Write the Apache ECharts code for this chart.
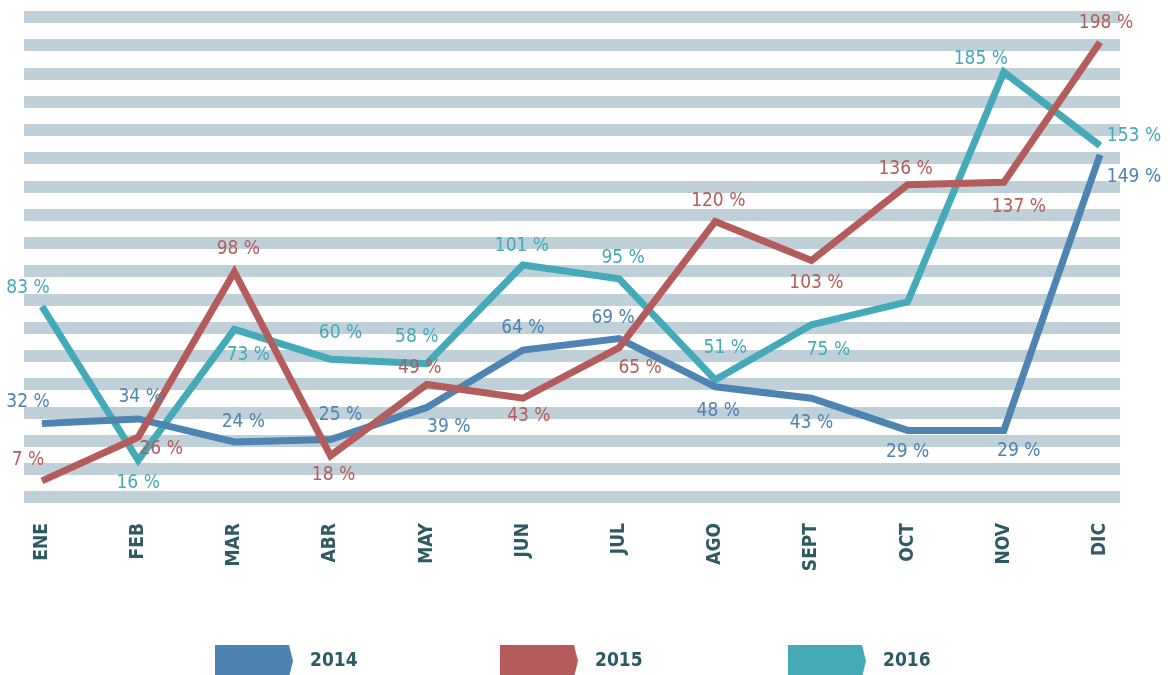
<!DOCTYPE html>
<html>
<head>
<meta charset="utf-8">
<script src="https://cdn.jsdelivr.net/npm/echarts@6/dist/echarts.min.js"></script>
<style>html,body{margin:0;padding:0;background:#fff;}#c{width:1170px;height:675px;}</style>
</head>
<body>
<div id="c"></div>
<script>
// ---- data ----
const months = ['ENE','FEB','MAR','ABR','MAY','JUN','JUL','AGO','SEPT','OCT','NOV','DIC'];
const seriesNames = ['2014','2015','2016'];
const v2014 = [32, 34, 24, 25, 39, 64, 69, 48, 43, 29, 29, 149];
const v2015 = [7, 26, 98, 18, 49, 43, 65, 120, 103, 136, 137, 198];
const v2016 = [83, 16, 73, 60, 58, 101, 95, 51, 75, 85, 185, 153];
const hiddenLabels2016 = [9]; // OCT 2016 has no label in the original

// ---- layout (label offsets relative to point, px) ----
const off2014 = [[-14,-21],[2,-22],[9,-20],[10,-25],[22,20],[0,-22],[-6,-20],[3,24],[0,25],[0,22],[15,21],[34,22]];
const off2015 = [[-14,-21],[23,12],[4,-23],[3,19],[-7,-16],[6,18],[21,20],[3,-20],[5,23],[-2,-16],[15,25],[6,-19]];
const off2016 = [[-14,-18],[0,23],[14,26],[10,-26],[-10,-27],[-1,-19],[4,-21],[10,-32],[17,25],[0,0],[-23,-13],[34,-10]];

const colors = {'2014':'#4f83b1','2015':'#b45c5b','2016':'#44aab8'};
const FONT = "'Liberation Sans Narrow','DejaVu Sans Condensed','Roboto Condensed',sans-serif";
const dark = '#2e5b63';

function mk(name, vals, offs, hidden) {
  hidden = hidden || [];
  return {
    name: name, type: 'line', xAxisIndex: 1, yAxisIndex: 1,
    symbol: 'circle', symbolSize: 1, showSymbol: true,
    lineStyle: {width: 7, color: colors[name], join: 'miter'},
    itemStyle: {color: colors[name]},
    emphasis: {disabled: true},
    label: {show: true, position: 'inside', align: 'center', verticalAlign: 'middle',
      color: colors[name], fontFamily: FONT, fontSize: 19, fontWeight: 500,
      formatter: p => p.value + ' %'},
    data: vals.map((v, i) => ({value: v, label: {offset: offs[i], show: hidden.indexOf(i) < 0}}))
  };
}

function legend(name, left) {
  return {
    data: [name], left: left, top: 645, padding: 0, itemWidth: 78, itemHeight: 32,
    icon: 'path://M0,0 L74,0 L78,16 L74,32 L0,32 Z',
    selectedMode: false,
    textStyle: {fontFamily: FONT, fontSize: 19, fontWeight: 'bold', color: dark, padding: [0,0,0,12]}
  };
}

const chart = echarts.init(document.getElementById('c'), null, {renderer: 'canvas'});
chart.setOption({
  animation: false,
  backgroundColor: '#fff',
  grid: [
    {left: 24, right: 50, top: 17, bottom: 178},
    {left: 42, right: 70, top: 17, bottom: 178}
  ],
  xAxis: [
    {type: 'value', gridIndex: 0, show: false, min: 0, max: 1},
    {type: 'category', gridIndex: 1, data: months, boundaryGap: false,
     axisLine: {show: false}, axisTick: {show: false}, splitLine: {show: false},
     axisLabel: {rotate: 90, margin: 26, fontFamily: FONT, fontSize: 19, fontWeight: 'bold', color: dark, interval: 0}}
  ],
  yAxis: [
    {type: 'value', gridIndex: 0, min: 0, max: 17, interval: 1,
     axisLine: {show: false}, axisTick: {show: false}, axisLabel: {show: false},
     splitLine: {show: true, lineStyle: {color: '#bfd0d9', width: 12}}},
    {type: 'value', gridIndex: 1, min: 0, max: 209, show: false, splitLine: {show: false}}
  ],
  legend: [legend('2014', 215), legend('2015', 500), legend('2016', 788)],
  series: [
    mk('2016', v2016, off2016, hiddenLabels2016),
    mk('2014', v2014, off2014),
    mk('2015', v2015, off2015)
  ]
});
</script>
</body>
</html>
